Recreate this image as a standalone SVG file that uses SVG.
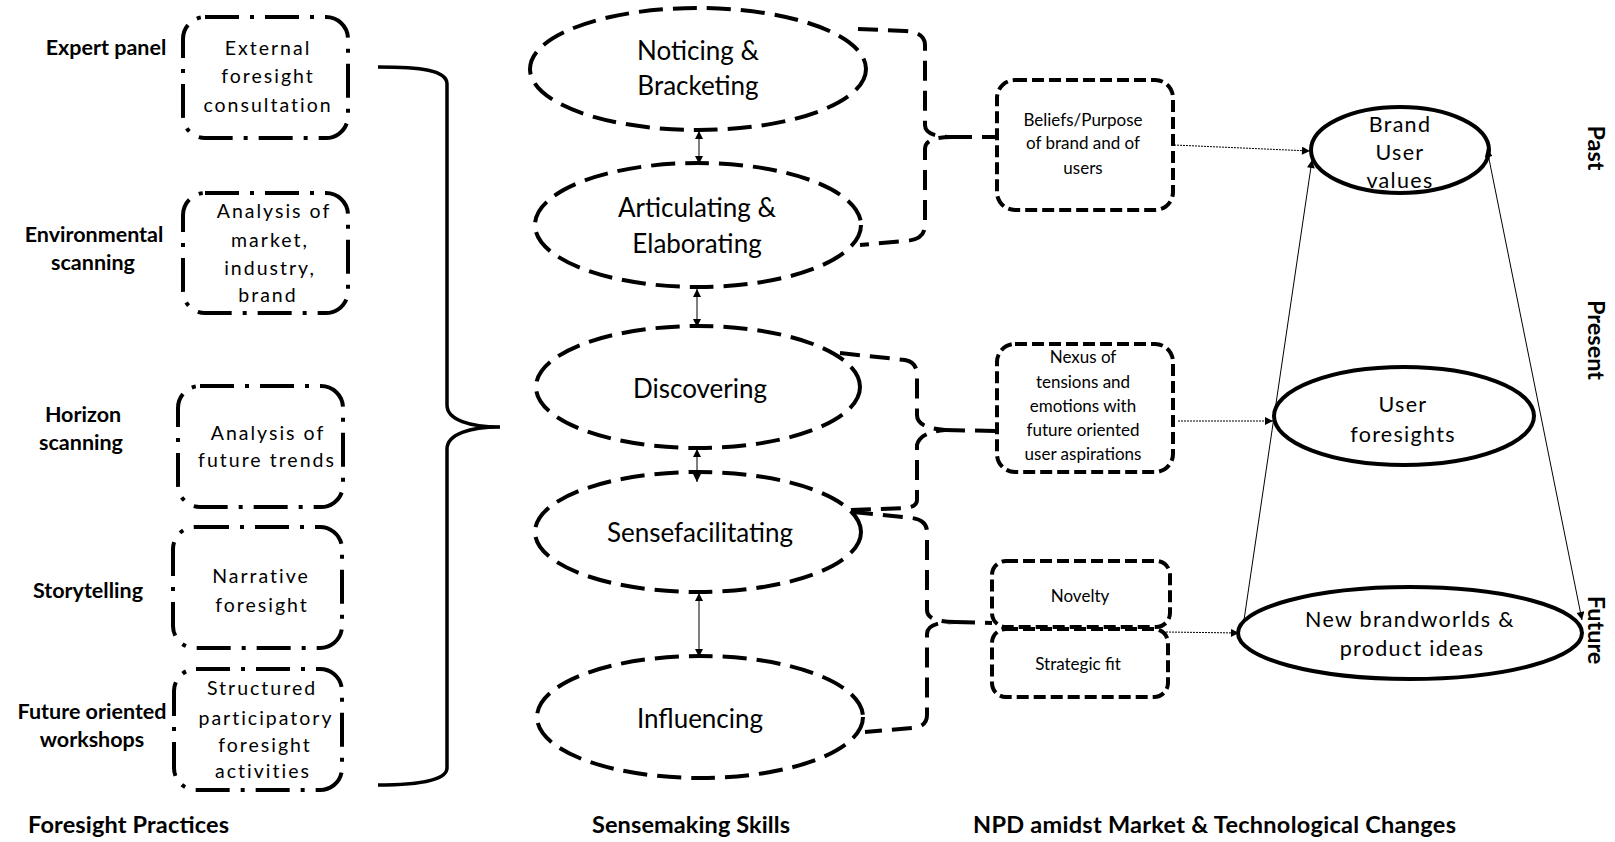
<svg xmlns="http://www.w3.org/2000/svg" width="1615" height="842" viewBox="0 0 1615 842">
<defs>
<style>
text{font-family:Lato,"Liberation Sans",sans-serif;fill:#000}
.lbl{font-weight:bold;font-size:21.5px}
.ttl{font-weight:bold;font-size:23.5px}
.bt{font-size:19.5px;letter-spacing:2px;text-anchor:middle}
.et{font-size:26px;text-anchor:middle}
.st{font-size:17px;text-anchor:middle}
.rt{font-size:21.5px;letter-spacing:1.3px;text-anchor:middle}
.dd{fill:none;stroke:#000;stroke-width:4;stroke-dasharray:34 11 4 11}
.de{fill:none;stroke:#000;stroke-width:4;stroke-dasharray:24 10}
.db{fill:none;stroke:#000;stroke-width:4;stroke-dasharray:12 5}
.br{fill:none;stroke:#000;stroke-width:4;stroke-dasharray:20 10}
.so{fill:none;stroke:#000;stroke-width:4}
.thin{fill:none;stroke:#000;stroke-width:1}
.dot{fill:none;stroke:#000;stroke-width:1;stroke-dasharray:2 1}
</style>
<marker id="ah" viewBox="0 0 10 10" refX="10" refY="5" markerWidth="9" markerHeight="8" orient="auto-start-reverse" markerUnits="userSpaceOnUse">
<path d="M0,0 L10,5 L0,10 z" fill="#000"/>
</marker>
</defs>
<rect width="1615" height="842" fill="#fff"/>

<g id="labels">
<text class="lbl" x="106" y="55" text-anchor="middle">Expert panel</text>
<text class="lbl" x="94" y="242" text-anchor="middle">Environmental</text>
<text class="lbl" x="93" y="270" text-anchor="middle">scanning</text>
<text class="lbl" x="83" y="422" text-anchor="middle">Horizon</text>
<text class="lbl" x="81" y="450" text-anchor="middle">scanning</text>
<text class="lbl" x="88" y="598" text-anchor="middle">Storytelling</text>
<text class="lbl" x="92" y="719" text-anchor="middle">Future oriented</text>
<text class="lbl" x="92" y="747" text-anchor="middle">workshops</text>
<text class="ttl" x="28" y="833" textLength="201">Foresight Practices</text>
<text class="ttl" x="592" y="833" textLength="198">Sensemaking Skills</text>
<text class="ttl" x="973" y="833" textLength="483">NPD amidst Market  &amp; Technological Changes</text>
<text class="ttl" transform="translate(1588,148) rotate(90)" text-anchor="middle">Past</text>
<text class="ttl" transform="translate(1588,340) rotate(90)" text-anchor="middle">Present</text>
<text class="ttl" transform="translate(1588,630) rotate(90)" text-anchor="middle">Future</text>
</g>

<g id="expert-box">
<rect class="dd" x="183" y="17" width="165" height="121" rx="22"/>
<text class="bt" x="268" y="55">External</text>
<text class="bt" x="268" y="83">foresight</text>
<text class="bt" x="268" y="112">consultation</text>
</g>
<g id="env-box">
<rect class="dd" x="183" y="193" width="165" height="120" rx="22"/>
<text class="bt" x="274" y="218">Analysis of</text>
<text class="bt" x="270" y="247">market,</text>
<text class="bt" x="270" y="275">industry,</text>
<text class="bt" x="268" y="302">brand</text>
</g>
<g id="horizon-box">
<rect class="dd" x="178" y="386" width="165" height="121" rx="22"/>
<text class="bt" x="268" y="440">Analysis of</text>
<text class="bt" x="267" y="467">future trends</text>
</g>
<g id="story-box">
<rect class="dd" x="173" y="527" width="169" height="121" rx="22"/>
<text class="bt" x="261" y="583">Narrative</text>
<text class="bt" x="262" y="612">foresight</text>
</g>
<g id="workshop-box">
<rect class="dd" x="174" y="669" width="168" height="121" rx="22"/>
<text class="bt" x="262" y="695">Structured</text>
<text class="bt" x="266" y="725">participatory</text>
<text class="bt" x="265" y="752">foresight</text>
<text class="bt" x="263" y="778">activities</text>
</g>

<g id="noticing">
<ellipse class="de" cx="698" cy="69" rx="168" ry="61"/>
<text class="et" x="698" y="60">Noticing &amp;</text>
<text class="et" x="698" y="95">Bracketing</text>
</g>
<g id="articulating">
<ellipse class="de" cx="698" cy="225" rx="163" ry="62"/>
<text class="et" x="697" y="217">Articulating &amp;</text>
<text class="et" x="697" y="253">Elaborating</text>
</g>
<g id="discovering">
<ellipse class="de" cx="698" cy="387" rx="162" ry="61"/>
<text class="et" x="700" y="398">Discovering</text>
</g>
<g id="sensefacilitating">
<ellipse class="de" cx="698" cy="532" rx="163" ry="60"/>
<text class="et" x="700" y="542">Sensefacilitating</text>
</g>
<g id="influencing">
<ellipse class="de" cx="700" cy="717" rx="163" ry="61"/>
<text class="et" x="700" y="728">Influencing</text>
</g>

<g id="beliefs-box">
<rect class="db" x="997" y="80" width="176" height="130" rx="18"/>
<text class="st" x="1083" y="126">Beliefs/Purpose</text>
<text class="st" x="1083" y="149">of brand and of</text>
<text class="st" x="1083" y="174">users</text>
</g>
<g id="nexus-box">
<rect class="db" x="997" y="344" width="176" height="128" rx="18"/>
<text class="st" x="1083" y="363">Nexus of</text>
<text class="st" x="1083" y="388">tensions and</text>
<text class="st" x="1083" y="412">emotions with</text>
<text class="st" x="1083" y="436">future oriented</text>
<text class="st" x="1083" y="460">user aspirations</text>
</g>
<g id="novelty-box">
<rect class="db" x="992" y="561" width="178" height="66" rx="14"/>
<text class="st" x="1080" y="602">Novelty</text>
</g>
<g id="strategic-box">
<rect class="db" x="992" y="629" width="176" height="68" rx="14"/>
<text class="st" x="1078" y="670">Strategic fit</text>
</g>

<g id="brand-values">
<ellipse class="so" cx="1400" cy="150" rx="89" ry="43"/>
<text class="rt" x="1400" y="132">Brand</text>
<text class="rt" x="1400" y="160">User</text>
<text class="rt" x="1400" y="188">values</text>
</g>
<g id="user-foresights">
<ellipse class="so" cx="1404" cy="416" rx="130" ry="49"/>
<text class="rt" x="1403" y="412">User</text>
<text class="rt" x="1403" y="442">foresights</text>
</g>
<g id="new-brandworlds">
<ellipse class="so" cx="1410" cy="633" rx="172" ry="46"/>
<text class="rt" x="1410" y="627">New brandworlds &amp;</text>
<text class="rt" x="1412" y="656">product ideas</text>
</g>

<g id="connectors">
<path class="so" style="stroke-width:3.5" d="M378,67 C420,67 447,70 447,84 L447,405 C447,420 470,427 500,427 C470,427 447,434 447,449 L447,768 C447,780 420,785 378,785"/>
<line class="thin" x1="699" y1="131" x2="699" y2="164" marker-start="url(#ah)" marker-end="url(#ah)"/>
<line class="thin" x1="697" y1="289" x2="697" y2="327" marker-start="url(#ah)" marker-end="url(#ah)"/>
<line class="thin" x1="697" y1="449" x2="697" y2="482" marker-start="url(#ah)" marker-end="url(#ah)"/>
<line class="thin" x1="699" y1="593" x2="699" y2="657" marker-start="url(#ah)" marker-end="url(#ah)"/>
<path class="br" d="M858,29 L905,31 Q925,32 925,45 L925,125 Q925,137 952,137 Q925,137 925,149 L925,225 Q925,240 905,241 L860,245"/>
<path class="br" d="M952,137 L997,137"/>
<path class="br" d="M840,353 L905,360 Q917,362 917,375 L917,415 Q917,428 945,430 Q920,432 917,445 L917,500 Q917,507 905,508 L850,510"/>
<path class="br" d="M945,430 L997,431"/>
<path class="br" d="M853,512 L912,518 Q927,520 927,532 L927,610 Q927,622 955,622 Q927,622 927,634 L927,715 Q927,727 912,728 L865,732"/>
<path class="br" d="M955,622 L992,623"/>
<line class="dot" x1="1174" y1="145" x2="1310" y2="151" marker-end="url(#ah)"/>
<line class="dot" x1="1178" y1="421" x2="1273" y2="421" marker-end="url(#ah)"/>
<line class="dot" x1="1166" y1="632" x2="1239" y2="633" marker-end="url(#ah)"/>
<line class="thin" x1="1244" y1="620" x2="1312" y2="160" marker-end="url(#ah)"/>
<line class="thin" x1="1487" y1="149" x2="1582" y2="620" marker-start="url(#ah)" marker-end="url(#ah)"/>
</g>
</svg>
